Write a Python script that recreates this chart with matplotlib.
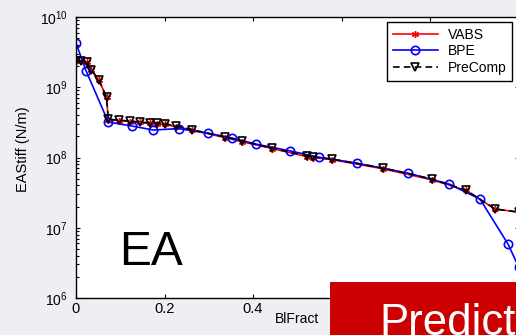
import numpy as np
import matplotlib.pyplot as plt
from matplotlib.patches import Rectangle
from matplotlib.ticker import FuncFormatter, LogLocator

plt.rcParams['font.family'] = ['Liberation Sans', 'DejaVu Sans']
plt.rcParams['mathtext.fontset'] = 'custom'
plt.rcParams['mathtext.rm'] = 'Liberation Sans'
plt.rcParams['mathtext.default'] = 'regular'

# PreComp stations (also used for VABS)
x_pc = [0.0, 0.012, 0.024, 0.035, 0.052, 0.069, 0.073, 0.097, 0.122, 0.145,
        0.167, 0.183, 0.201, 0.226, 0.262, 0.337, 0.375, 0.443, 0.522, 0.536,
        0.579, 0.694, 0.805, 0.881, 0.947, 1.0]
ea_pc = [2.35e9, 2.35e9, 2.28e9, 1.75e9, 1.26e9, 7.2e8, 3.5e8, 3.4e8, 3.3e8, 3.2e8,
         3.1e8, 3.1e8, 3.0e8, 2.8e8, 2.5e8, 1.95e8, 1.71e8, 1.36e8, 1.05e8, 1.01e8,
         9.5e7, 7.06e7, 4.93e7, 3.44e7, 1.85e7, 1.67e7]
ea_vabs = [2.35e9, 2.35e9, 2.28e9, 1.75e9, 1.26e9, 7.2e8, 3.45e8, 3.35e8, 3.25e8, 3.15e8,
           3.05e8, 3.0e8, 2.95e8, 2.75e8, 2.45e8, 1.92e8, 1.68e8, 1.34e8, 1.03e8, 1.0e8,
           9.3e7, 6.9e7, 4.8e7, 3.4e7, 1.85e7, 1.67e7]

# BPE stations
x_bpe = [0.0, 0.023, 0.073, 0.127, 0.175, 0.232, 0.298, 0.353, 0.407, 0.484,
         0.549, 0.635, 0.750, 0.843, 0.913, 0.976, 1.0]
ea_bpe = [4.24e9, 1.70e9, 3.19e8, 2.80e8, 2.46e8, 2.58e8, 2.22e8, 1.89e8, 1.55e8, 1.24e8,
          1.01e8, 8.3e7, 6.0e7, 4.19e7, 2.56e7, 5.9e6, 2.8e6]

W, H = 516, 335
fig = plt.figure(figsize=(W / 100, H / 100), dpi=100, facecolor='#eeeff3')
ax = fig.add_axes([76 / W, 1 - 298 / H, 442.5 / W, 281 / H])

ax.plot(x_pc, ea_vabs, color='red', lw=1.2, marker=(6, 2, 0), ms=5, label='VABS')
ax.plot(x_bpe, ea_bpe, color='blue', lw=1.2, marker='o', ms=6, mfc='none', mew=1.2,
        label='BPE')
ax.plot(x_pc, ea_pc, color='black', lw=1.2, ls='--', dashes=(4, 2.5), marker='v', ms=6,
        mfc='none', mew=1.2, label='PreComp')

ax.set_yscale('log')
ax.set_xlim(0, 1)
ax.set_ylim(1e6, 1e10)
ax.set_xticks([0, 0.2, 0.4, 0.6, 0.8, 1.0])
# labels beyond 0.4 sit under the red banner in the original
ax.xaxis.set_major_formatter(FuncFormatter(
    lambda v, p: '0' if v == 0 else ('%g' % v if v < 0.5 else '')))
ax.yaxis.set_major_locator(LogLocator(base=10, numticks=10))
ax.yaxis.set_minor_locator(LogLocator(base=10, subs=np.arange(2, 10), numticks=20))
ax.yaxis.set_major_formatter(FuncFormatter(lambda v, p: r'$10^{%d}$' % round(np.log10(v))))
ax.tick_params(which='both', direction='in', top=True, right=True,
               width=0.8, colors='black')
ax.tick_params(axis='x', labelsize=10.5, pad=3)
ax.tick_params(axis='y', labelsize=10, pad=6)
ax.tick_params(which='major', length=3)
ax.tick_params(which='minor', length=2)
for s in ax.spines.values():
    s.set_linewidth(1.0)

ax.set_ylabel('EAStiff (N/m)', fontsize=10.5)
ax.yaxis.set_label_coords(-0.103, 0.53)
ax.set_xlabel('BlFract', fontsize=10)
ax.xaxis.set_label_coords(0.5, -0.05)

ax.text(0.097, 10 ** 6.47, 'EA', fontsize=34.5, ha='left', va='baseline')

leg = ax.legend(loc='upper left', bbox_to_anchor=(387 / W, 1 - 22 / H),
                bbox_transform=fig.transFigure, borderaxespad=0, fontsize=10,
                handlelength=3.3, handletextpad=0.7, labelspacing=0.2,
                borderpad=0.4, fancybox=False, framealpha=1, edgecolor='black')
leg.get_frame().set_linewidth(1.0)

fig.add_artist(Rectangle((330 / W, 0), 1 - 330 / W, 53 / H, transform=fig.transFigure,
                         facecolor='#cc0000', edgecolor='none', zorder=10))
fig.text(379 / W, 1 - 335 / H, 'Predict', color='white', fontsize=31.5,
         ha='left', va='baseline', zorder=11)

fig.savefig('out.png', dpi=100, facecolor=fig.get_facecolor())
